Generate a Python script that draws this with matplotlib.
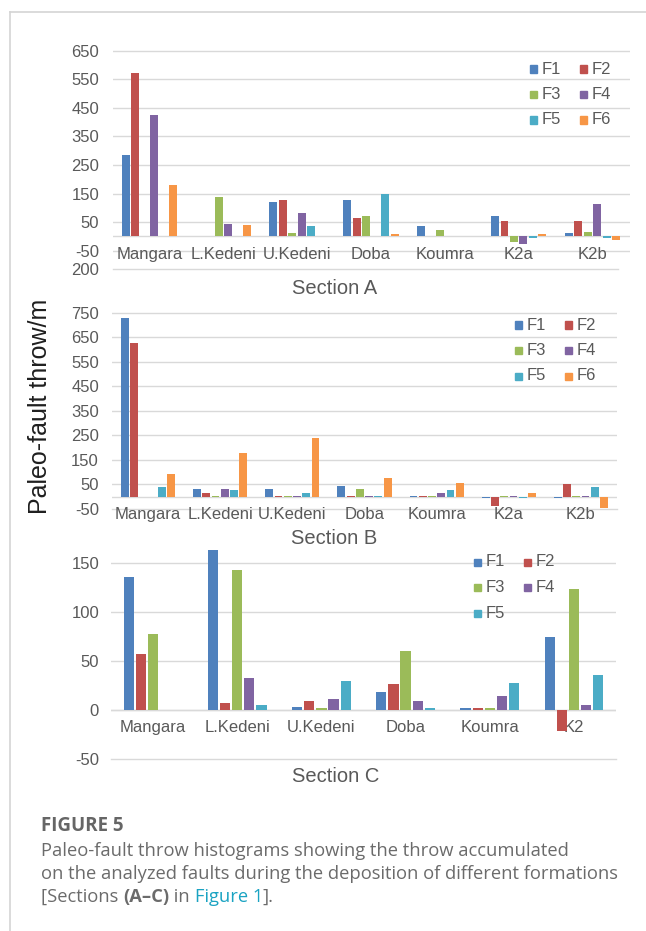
import numpy as np
import matplotlib
matplotlib.use("Agg")
import matplotlib.pyplot as plt
from matplotlib.lines import Line2D
from matplotlib.patches import Rectangle

W, H = 646, 931

faults = ["F1", "F2", "F3", "F4", "F5", "F6"]
colors = ["#4F81BD", "#C0504D", "#9BBB59", "#8064A2", "#4BACC6", "#F79646"]

# Section A throws (m)
cats_a = ["Mangara", "L.Kedeni", "U.Kedeni", "Doba", "Koumra", "K2a", "K2b"]
a_f1 = [285, 2, 120, 128, 35, 72, 13]
a_f2 = [573, 2, 128, 66, 2, 53, 53]
a_f3 = [2, 138, 13, 72, 21, -21, 17]
a_f4 = [425, 45, 81, 2, 2, -26, 112]
a_f5 = [2, 2, 35, 148, 2, -7, -7]
a_f6 = [179, 40, 2, 8, 2, 8, -12]

# Section B throws (m)
cats_b = ["Mangara", "L.Kedeni", "U.Kedeni", "Doba", "Koumra", "K2a", "K2b"]
b_f1 = [728, 32, 32, 44, 2, -7, -7]
b_f2 = [626, 16, 2, 2, 2, -39, 50]
b_f3 = [0, 2, 2, 32, 2, 2, 2]
b_f4 = [0, 32, 2, 2, 16, 2, 2]
b_f5 = [39, 27, 16, 2, 27, -7, 39]
b_f6 = [93, 179, 238, 77, 54, 16, -47]

# Section C throws (m)
cats_c = ["Mangara", "L.Kedeni", "U.Kedeni", "Doba", "Koumra", "K2"]
c_f1 = [135, 163, 3, 18, 2, 74]
c_f2 = [57, 7, 9, 26, 2, -22]
c_f3 = [77, 143, 2, 60, 2, 123]
c_f4 = [0, 32, 11, 9, 14, 5]
c_f5 = [0, 5, 29, 2, 27, 35]

ticks_a = [650, 550, 450, 350, 250, 150, 50, -50, -114]
ticklabels_a = ["650", "550", "450", "350", "250", "150", "50", "-50", "200"]
ticks_b = [750, 650, 550, 450, 350, 250, 150, 50, -50]
ticks_c = [150, 100, 50, 0, -50]

TXT = "#595959"
GRID = "#d9d9d9"
SANS = ["Liberation Sans", "DejaVu Sans"]
plt.rcParams["font.family"] = SANS

fig = plt.figure(figsize=(W / 100, H / 100), dpi=100)


def px_rect(left, top, right, bottom):
    return [left / W, 1 - bottom / H, (right - left) / W, (bottom - top) / H]


def ftext(x, y, s, **kw):
    return fig.text(x / W, 1 - y / H, s, **kw)


def panel(box, cats, series, group, ylim, ticks, labels, grid_end=1.0):
    ax = fig.add_axes(px_rect(*box))
    x = np.arange(len(cats))
    pitch = group / len(series)
    for i, vals in enumerate(series):
        ax.bar(x - group / 2 + pitch * (i + 0.5), vals, pitch * 0.84,
               color=colors[i], zorder=3)
    ax.set_xlim(-0.5, len(cats) - 0.5)
    ax.set_ylim(*ylim)
    for t in ticks[:-1]:
        ax.axhline(t, color=GRID, lw=1, zorder=1)
    ax.axhline(0, color=GRID, lw=1, zorder=1)
    ax.plot([0, grid_end], [ticks[-1], ticks[-1]], color=GRID, lw=1,
            transform=ax.get_yaxis_transform(), clip_on=False, zorder=1)
    for s in ax.spines.values():
        s.set_visible(False)
    ax.spines["bottom"].set_position(("data", 0))
    ax.set_xticks(x, cats)
    ax.set_yticks(ticks, labels)
    ax.tick_params(axis="x", length=0, pad=7.5, labelsize=12, labelcolor=TXT)
    ax.tick_params(axis="y", length=0, pad=(box[0] - 99) * 0.72,
                   labelsize=12, labelcolor=TXT)
    return ax


def key(x, y, names):
    # legend drawn as 2 columns of small squares + labels
    for i, name in enumerate(names):
        cx = x + (i % 2) * 50
        cy = y + (i // 2) * 25.5
        fig.add_artist(Rectangle((cx / W, 1 - (cy + 3.5) / H), 7 / W, 7 / H,
                                 transform=fig.transFigure,
                                 color=colors[faults.index(name)]))
        ftext(cx + 12, cy, name, fontsize=12, color=TXT, va="center")


panel((112.5, 47.8, 629.5, 269), cats_a,
      [a_f1, a_f2, a_f3, a_f4, a_f5, a_f6], 0.77, (-114, 660),
      ticks_a, ticklabels_a, grid_end=(618 - 112.5) / 517)
key(530, 69, faults)
ftext(334.5, 289, "Section A", fontsize=14.5, color=TXT, ha="center", va="center")

panel((112, 307.8, 617, 510.2), cats_b,
      [b_f1, b_f2, b_f3, b_f4, b_f5, b_f6], 0.77, (-55, 770),
      ticks_b, [str(t) for t in ticks_b])
key(515, 325, faults)
ftext(334.5, 538.6, "Section B", fontsize=14.5, color=TXT, ha="center", va="center")

panel((111, 545.1, 616, 763.6), cats_c,
      [c_f1, c_f2, c_f3, c_f4, c_f5], 0.72, (-55, 168),
      ticks_c, [str(t) for t in ticks_c])
key(474, 562, faults[:5])
ftext(335.6, 776, "Section C", fontsize=14.5, color=TXT, ha="center", va="center")

ftext(40, 406, "Paleo-fault throw/m", fontsize=18, color="#1f1f1f",
      rotation=90, ha="center", va="center")

# frame lines of the figure panel
fig.add_artist(Line2D([10 / W, 10 / W], [0, 1 - 12 / H], color="#d4d4d4", lw=1.2))
fig.add_artist(Line2D([10 / W, 1], [1 - 12 / H, 1 - 12 / H], color="#d4d4d4", lw=1.2))

# caption
CAP = ["Open Sans", "DejaVu Sans"]
CAPC = "#6b6b6b"
ftext(41, 826, "FIGURE 5", fontsize=13.5, fontweight="bold", color="#666666",
      family=CAP, va="center")
ftext(41, 851, "Paleo-fault throw histograms showing the throw accumulated",
      fontsize=13.2, color=CAPC, family=CAP, va="center")
ftext(41, 874, "on the analyzed faults during the deposition of different formations",
      fontsize=13.2, color=CAPC, family=CAP, va="center")

renderer = fig.canvas.get_renderer()
x = 41
for s, kw in [("[Sections ", {}), ("(A\u2013C)", {"fontweight": "bold"}),
              (" in ", {}), ("Figure 1", {"color": "#1aa3c2"}), ("].", {})]:
    style = {"fontsize": 13.2, "color": CAPC, "family": CAP, "va": "center"}
    style.update(kw)
    t = ftext(x, 897, s, **style)
    x += t.get_window_extent(renderer).width

fig.savefig("out.png", dpi=100)
